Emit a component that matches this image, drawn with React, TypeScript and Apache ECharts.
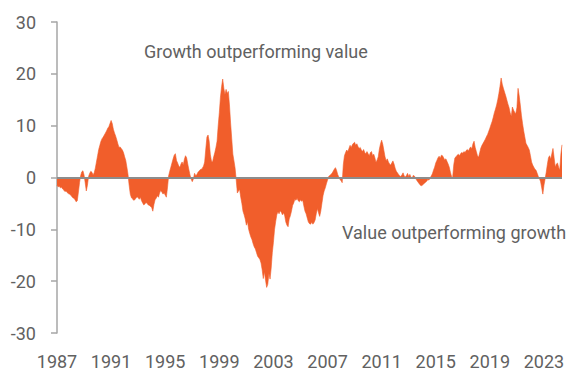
import React, { useEffect, useRef } from "react";
import * as echarts from "echarts";

// Monthly spread (growth minus value), Jan 1987 onward
const v1987_1990 = [
  -1.5, -1.8, -1.7, -2.0, -1.9, -2.2, -2.4, -2.7, -2.6, -2.9, -3.1, -3.2,
  -3.4, -3.6, -3.9, -4.0, -4.3, -4.7, -4.5, -2.8, -1.0, 0.4, 1.1, 1.3,
  0.5, -1.0, -2.6, -1.5, 0.2, 0.8, 1.2, 1.0, 0.5, 0.9, 1.8, 3.0,
  4.2, 5.4, 6.2, 7.0, 7.5, 7.8, 8.2, 8.6, 9.0, 9.5, 9.8, 10.4,
];
const v1991_1994 = [
  11.0, 10.4, 9.3, 8.6, 8.0, 7.3, 6.5, 5.8, 5.9, 5.6, 5.3, 4.8,
  4.0, 3.3, 2.0, 0.6, -1.5, -3.2, -3.9, -4.1, -4.4, -4.3, -4.0, -3.7,
  -3.9, -4.2, -3.8, -4.5, -4.9, -5.3, -5.1, -4.8, -5.0, -5.3, -5.4, -5.6,
  -5.8, -6.5, -5.2, -4.3, -4.0, -3.5, -3.8, -3.0, -2.5, -2.8, -3.2, -3.0,
];
const v1995_1998 = [
  -3.4, -3.8, -2.0, 0.3, 1.2, 2.0, 2.8, 3.6, 4.3, 4.6, 3.3, 2.8,
  2.2, 2.0, 2.6, 3.0, 2.4, 3.5, 4.2, 3.8, 2.6, 1.5, 0.5, -0.3,
  -0.8, -0.3, 0.8, 0.4, 0.5, 1.0, 1.2, 1.5, 1.6, 1.8, 2.2, 3.0,
  5.5, 7.8, 8.2, 7.0, 4.5, 3.2, 3.0, 4.0, 4.8, 5.8, 7.0, 10.0,
];
const v1999_2002 = [
  12.5, 15.5, 17.5, 19.0, 17.2, 16.0, 17.0, 16.2, 16.6, 14.0, 10.5, 7.5,
  4.5, 3.2, 1.8, -0.5, -3.0, -2.6, -2.3, -3.8, -5.0, -6.5, -7.2, -8.0,
  -9.2, -8.5, -10.0, -10.8, -11.5, -12.0, -12.8, -13.4, -13.8, -14.5, -15.2, -15.5,
  -15.8, -16.5, -17.8, -19.5, -18.2, -19.8, -21.2, -20.6, -18.5, -19.6, -17.5, -14.5,
];
const v2003_2006 = [
  -12.5, -10.0, -8.5, -7.2, -6.6, -7.0, -6.4, -6.7, -7.2, -6.8, -7.4, -8.6,
  -9.2, -9.5, -8.0, -7.4, -6.5, -5.4, -4.9, -4.2, -4.4, -4.0, -4.5, -4.7,
  -4.3, -4.6, -4.4, -5.5, -6.5, -7.0, -7.8, -8.6, -8.9, -9.0, -8.6, -9.0,
  -8.7, -8.2, -7.0, -6.0, -6.8, -7.5, -6.5, -5.0, -3.5, -2.6, -2.0, -1.2,
];
const v2007_2010 = [
  -0.5, 0.2, 0.4, 0.6, 0.8, 1.2, 1.6, 1.9, 1.4, 0.6, 0.1, -0.4,
  -0.6, -1.0, 2.5, 4.2, 4.8, 5.3, 5.0, 5.6, 6.2, 5.8, 6.3, 6.6,
  6.8, 6.2, 6.5, 6.0, 5.6, 5.8, 5.3, 5.0, 5.4, 4.8, 4.6, 5.0,
  4.6, 4.2, 4.8, 5.0, 4.2, 4.5, 3.8, 2.9, 3.4, 4.0, 5.5, 6.5,
];
const v2011_2014 = [
  7.2, 6.4, 5.2, 4.0, 3.2, 3.6, 3.0, 2.6, 2.4, 2.8, 3.2, 2.6,
  1.8, 1.2, 0.9, 0.6, 0.3, 0.2, 0.5, 0.9, 0.3, 0.1, 0.4, 0.8,
  0.2, 0.6, 0.1, -0.2, 0.4, 0.3, -0.1, -0.5, -0.8, -1.1, -1.4, -1.6,
  -1.5, -1.3, -1.1, -0.9, -0.7, -0.4, -0.5, -0.1, 0.3, 0.7, 1.4, 2.0,
];
const v2015_2018 = [
  2.8, 3.3, 3.8, 4.1, 3.7, 4.3, 4.2, 3.8, 3.4, 3.6, 3.1, 2.6,
  2.0, 1.0, 0.2, 0.0, 2.5, 3.8, 4.0, 4.3, 4.5, 4.2, 4.6, 4.8,
  4.7, 5.0, 4.8, 5.2, 5.4, 5.1, 5.6, 5.9, 5.5, 6.5, 7.0, 5.8,
  5.0, 4.2, 3.9, 4.8, 5.7, 6.2, 6.6, 7.0, 7.4, 7.9, 8.3, 8.9,
];
const v2019_2022 = [
  9.5, 10.2, 10.8, 11.6, 12.5, 13.2, 14.0, 15.0, 16.2, 17.6, 19.2, 18.0,
  17.2, 16.5, 15.8, 15.0, 14.2, 13.5, 12.5, 11.8, 13.6, 13.0, 12.6, 12.3,
  13.5, 17.2, 15.8, 14.0, 12.0, 10.4, 9.0, 7.8, 6.6, 6.2, 5.8, 5.3,
  4.2, 3.0, 2.4, 2.0, 1.6, 1.4, 0.8, 0.2, -0.2, -0.8, -2.0, -3.2,
];
const v2023_2024 = [
  -1.5, -0.3, 1.0, 2.5, 3.8, 4.2, 3.5, 4.6, 5.6, 3.8, 2.0, 2.6,
  2.8, 2.0, 1.4, 4.5, 6.3,
];

const values = [
  ...v1987_1990, ...v1991_1994, ...v1995_1998, ...v1999_2002, ...v2003_2006,
  ...v2007_2010, ...v2011_2014, ...v2015_2018, ...v2019_2022, ...v2023_2024,
];

const startYear = 1987;
const labelEveryYears = 4;
const months = values.map((_, i) => {
  const y = startYear + Math.floor(i / 12);
  const m = (i % 12) + 1;
  return `${y}-${m < 10 ? "0" + m : m}`;
});

const yTicks = { min: -30, max: 30, interval: 10 };
const growthLabel = "Growth outperforming value";
const valueLabel = "Value outperforming growth";

const FONT = "Roboto, 'Noto Sans', sans-serif";
const TEXT = "#616161";
const ORANGE = "#F15E2B";

export default function App() {
  const ref = useRef<HTMLDivElement>(null);
  useEffect(() => {
    if (!ref.current) return;
    const chart = echarts.init(ref.current, null, { renderer: "svg" });
    chart.setOption({
      animation: false,
      grid: { left: 57, right: 22, top: 22, bottom: 49, containLabel: false },
      xAxis: {
        type: "category",
        data: months,
        boundaryGap: false,
        axisLine: { show: false },
        axisTick: { show: false },
        splitLine: { show: false },
        axisLabel: {
          interval: (i: number) => i % (12 * labelEveryYears) === 0,
          formatter: (v: string) => v.slice(0, 4),
          color: TEXT,
          fontSize: 18,
          fontFamily: FONT,
          margin: 19,
        },
      },
      yAxis: {
        type: "value",
        min: yTicks.min,
        max: yTicks.max,
        interval: yTicks.interval,
        splitLine: { show: false },
        axisLine: { show: true, lineStyle: { color: "#a6a6a6", width: 1.5 } },
        axisTick: { show: true, length: 6, lineStyle: { color: "#a6a6a6", width: 1.5 } },
        axisLabel: { color: TEXT, fontSize: 18, fontFamily: FONT, margin: 21 },
      },
      series: [
        {
          type: "line",
          data: values,
          showSymbol: false,
          symbol: "none",
          lineStyle: { width: 0.6, color: ORANGE },
          areaStyle: { color: ORANGE, opacity: 1 },
          markLine: {
            silent: true,
            symbol: "none",
            label: { show: false },
            lineStyle: { color: "#8c8c8c", width: 2, type: "solid" },
            data: [{ yAxis: 0 }],
          },
        },
      ],
      graphic: [
        {
          type: "text",
          x: 144,
          y: 51,
          style: {
            text: growthLabel,
            fill: TEXT,
            fontSize: 18,
            fontFamily: FONT,
            verticalAlign: "middle",
          },
        },
        {
          type: "text",
          x: 342,
          y: 232,
          style: {
            text: valueLabel,
            fill: TEXT,
            fontSize: 18,
            fontFamily: FONT,
            verticalAlign: "middle",
          },
        },
      ],
    });
    return () => chart.dispose();
  }, []);
  return (
    <div
      ref={ref}
      style={{ position: "fixed", left: 0, top: 0, width: 584, height: 382, background: "#fff" }}
    />
  );
}
